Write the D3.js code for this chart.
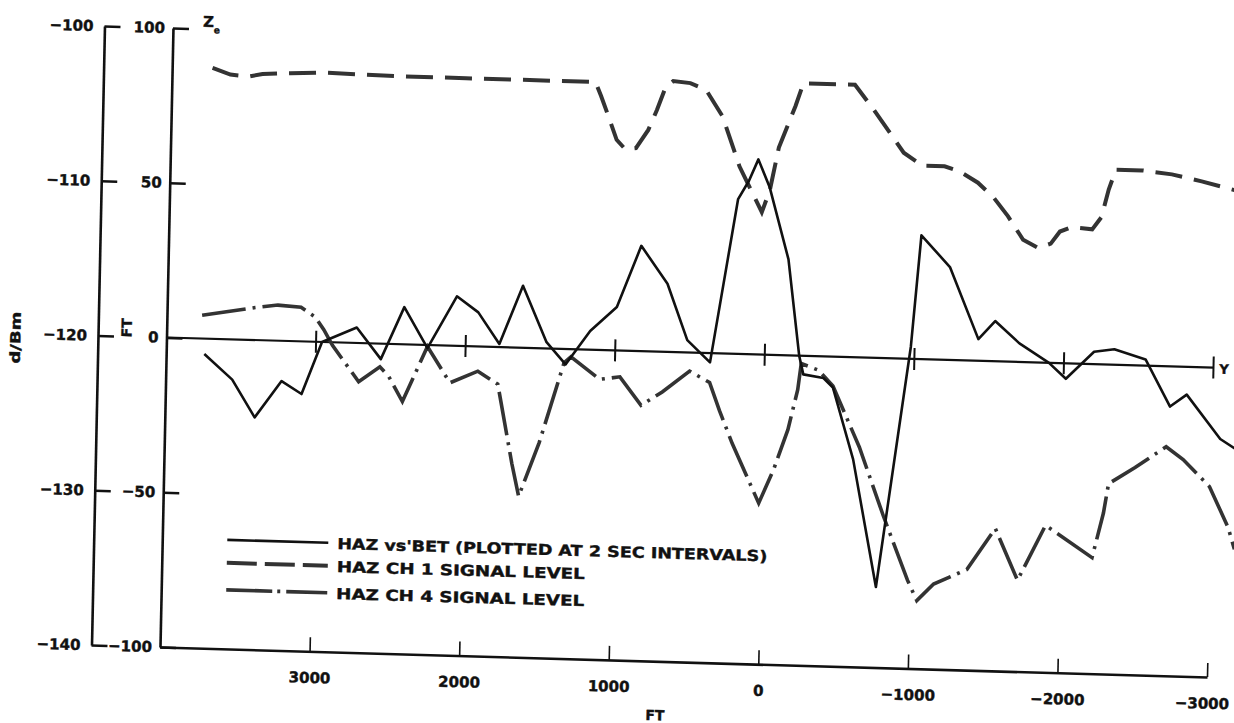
<!DOCTYPE html>
<meta charset="utf-8">
<script src="https://cdn.jsdelivr.net/npm/d3@7"></script>
<style>
  body { margin: 0; background: #fff; }
  svg { display: block; }
  text { font-family: "DejaVu Sans", "Liberation Sans", sans-serif; font-weight: bold; fill: #111; stroke: #111; stroke-width: 0.4px; }
</style>
<div id="chart"></div>
<script>
// distance (FT), values
const bearFt = [3745,3555,3400,3225,3090,2960,2730,2565,2415,2255,2065,1920,1775,1625,1460,1330,1170,995,840,660,520,365,200,130,70,-10,-145,-230,-260,-395,-460,-605,-775,-975,-1030,-1225,-1425,-1535,-1700,-1900,-2015,-2200,-2335,-2545,-2715,-2825,-3055,-3155]
const bearZe = [-5,-13,-25,-13,-17,0,5,-5,12,-1,16,11,1,20,2,-5,6,14,34,22,4,-3,50,56,63,54,31,0,-6,-7,-10,-33,-74,4,40,30,7,13,6,0,-5,4,5,2,-13,-9,-23,-26]

const ch1Ft = [3730,3610,3490,3395,3210,2975,2505,2035,1520,1170,1130,1070,1020,960,890,810,755,700,650,535,430,315,195,115,40,-10,-65,-170,-220,-565,-695,-825,-900,-1025,-1175,-1275,-1400,-1505,-1605,-1710,-1810,-1895,-1955,-2030,-2170,-2230,-2275,-2320,-2495,-2695,-2895,-3115]
const ch1Dbm = [-102.5,-102.9,-103.0,-102.8,-102.7,-102.6,-102.7,-102.7,-102.7,-102.7,-103.6,-105.1,-106.4,-107.0,-106.9,-105.7,-104.4,-102.9,-102.5,-102.6,-103.0,-104.7,-107.9,-109.4,-110.8,-109.4,-106.6,-103.9,-102.4,-102.4,-104.0,-105.7,-106.7,-107.5,-107.5,-107.8,-108.5,-109.4,-110.6,-112.1,-112.6,-112.3,-111.5,-111.2,-111.3,-110.5,-108.7,-107.4,-107.4,-107.6,-108.0,-108.5]

const ch4Ft = [3765,3410,3260,3105,3010,2950,2890,2710,2570,2510,2415,2255,2100,1915,1780,1755,1675,1625,1495,1340,1295,1100,965,820,680,500,365,295,205,20,-75,-165,-225,-245,-360,-460,-645,-815,-985,-1050,-1160,-1380,-1565,-1720,-1900,-2215,-2285,-2315,-2490,-2695,-2810,-2990,-3120,-3165]
const ch4Dbm = [-118.5,-117.9,-117.7,-117.8,-118.4,-119.2,-120.2,-122.5,-121.5,-122.1,-123.7,-120.1,-122.4,-121.6,-122.4,-123.6,-127.5,-129.6,-126.1,-120.9,-120.5,-121.9,-121.7,-123.5,-122.6,-121.2,-121.9,-123.7,-125.8,-129.6,-127.4,-124.8,-122.2,-120.5,-120.9,-121.9,-125.8,-130.2,-134.3,-135.6,-134.5,-133.5,-130.8,-134.1,-130.5,-132.5,-129.6,-127.7,-126.6,-125.2,-126.0,-127.7,-130.3,-131.7]

const ftTicks = [3000,2000,1000,0,-1000,-2000,-3000]
const dbmTicks = [-100,-110,-120,-130,-140]
const zeTicks = [100,50,0,-50,-100]
const legendLabels = ["HAZ  vs'BET  (PLOTTED AT 2 SEC INTERVALS)", "HAZ CH 1 SIGNAL LEVEL", "HAZ CH 4 SIGNAL LEVEL"]

const width = 1234, height = 723

const svg = d3.select("#chart").append("svg")
    .attr("width", width)
    .attr("height", height)

svg.append("rect").attr("width", width).attr("height", height).attr("fill", "#fff")

// the scanned sheet is a little sheared, so everything goes through one matrix
const g = svg.append("g")
    .attr("transform", "matrix(1,0.0287,-0.021,1,0.588,-4.965)")

const x = d3.scaleLinear().domain([4000, -3000]).range([173, 1220])
const yZe = d3.scaleLinear().domain([-100, 100]).range([647, 28])
const yDbm = d3.scaleLinear().domain([-140, -100]).range([647, 28])

function styleAxis(sel, fs) {
  sel.attr("font-family", null).attr("font-size", null)
  sel.select(".domain").attr("stroke", "#111").attr("stroke-width", 2.6)
  sel.selectAll(".tick line").attr("stroke", "#111").attr("stroke-width", 2.4)
  sel.selectAll(".tick text").style("font-size", fs + "px").attr("fill", "#111")
}

// dBm scale
let dbAxis = g.append("g")
    .attr("transform", "translate(104.5,0)")
    .call(d3.axisLeft(yDbm).tickValues(dbmTicks).tickSize(-16).tickSizeOuter(0).tickPadding(11))
styleAxis(dbAxis, 15)

// Z_e scale in FT
let zeAxis = g.append("g")
    .attr("transform", "translate(173,0)")
    .call(d3.axisLeft(yZe).tickValues(zeTicks).tickSize(-16).tickSizeOuter(0).tickPadding(8))
styleAxis(zeAxis, 15)

// distance axis
let ftAxis = g.append("g")
    .attr("transform", "translate(0,647)")
    .call(d3.axisBottom(x).tickValues(ftTicks).tickFormat(d3.format("d"))
      .tickSize(-14).tickSizeOuter(0).tickPadding(21))
styleAxis(ftAxis, 15)
ftAxis.selectAll(".tick line").attr("stroke-width", 1.6)
ftAxis.selectAll(".tick text").filter(d => d == -3000).attr("dx", -5)

// zero reference line with its crossing ticks
g.append("line")
    .attr("x1", x(4000)).attr("x2", x(-3000))
    .attr("y1", yZe(0)).attr("y2", yZe(0))
    .attr("stroke", "#111").attr("stroke-width", 2.2)
g.selectAll(".zt").data(ftTicks).enter().append("line")
    .attr("x1", d => x(d)).attr("x2", d => x(d))
    .attr("y1", yZe(0) - 11).attr("y2", yZe(0) + 11)
    .attr("stroke", "#111").attr("stroke-width", 2)

g.append("text").attr("x", x(-3000) + 6).attr("y", yZe(0) + 6)
    .style("font-size", "13px").text("Y")

// axis titles
g.append("text")
    .attr("transform", "translate(27,342) rotate(-90)")
    .attr("text-anchor", "middle")
    .attr("textLength", 52).attr("lengthAdjust", "spacingAndGlyphs")
    .style("font-size", "14px").text("d/Bm")
g.append("text")
    .attr("transform", "translate(138,329) rotate(-90)")
    .attr("text-anchor", "middle")
    .style("font-size", "14px").text("FT")
let ze = g.append("text").attr("x", 203).attr("y", 26).style("font-size", "15px")
ze.append("tspan").text("Z")
ze.append("tspan").attr("dy", 6).style("font-size", "9px").text("e")
g.append("text").attr("x", 669).attr("y", 706)
    .attr("text-anchor", "middle").style("font-size", "14px").text("FT")

// the three curves
const lineZe = d3.line().x(d => x(d[0])).y(d => yZe(d[1]))
const lineDb = d3.line().x(d => x(d[0])).y(d => yDbm(d[1]))

const styles = [
  {stroke: "#111", width: 2.6, dash: null},
  {stroke: "#333", width: 4, dash: "27,12"},
  {stroke: "#333", width: 3.6, dash: "44,7,3,7"}
]

g.append("path").datum(d3.zip(ch1Ft, ch1Dbm))
    .attr("d", lineDb).attr("fill", "none")
    .attr("stroke", styles[1].stroke).attr("stroke-width", styles[1].width)
    .attr("stroke-dasharray", styles[1].dash)
g.append("path").datum(d3.zip(ch4Ft, ch4Dbm))
    .attr("d", lineDb).attr("fill", "none")
    .attr("stroke", styles[2].stroke).attr("stroke-width", styles[2].width)
    .attr("stroke-dasharray", styles[2].dash)
g.append("path").datum(d3.zip(bearFt, bearZe))
    .attr("d", lineZe).attr("fill", "none")
    .attr("stroke", styles[0].stroke).attr("stroke-width", styles[0].width)
    .attr("stroke-linejoin", "round")

// legend
const rowY = [538, 561, 588]
const rowLen = [430, 248, 248]
let leg = g.selectAll(".leg").data(legendLabels).enter().append("g")
    .attr("transform", (d, i) => "translate(238," + rowY[i] + ")")
leg.append("line")
    .attr("x1", 0).attr("x2", 101)
    .attr("stroke", (d, i) => styles[i].stroke)
    .attr("stroke-width", (d, i) => styles[i].width)
    .attr("stroke-dasharray", (d, i) => i == 1 ? "30,8" : i == 2 ? "46,5,3,6" : null)
leg.append("text")
    .attr("x", 110).attr("y", 6)
    .attr("textLength", (d, i) => rowLen[i]).attr("lengthAdjust", "spacingAndGlyphs")
    .style("font-size", "15px")
    .text(d => d)
</script>
